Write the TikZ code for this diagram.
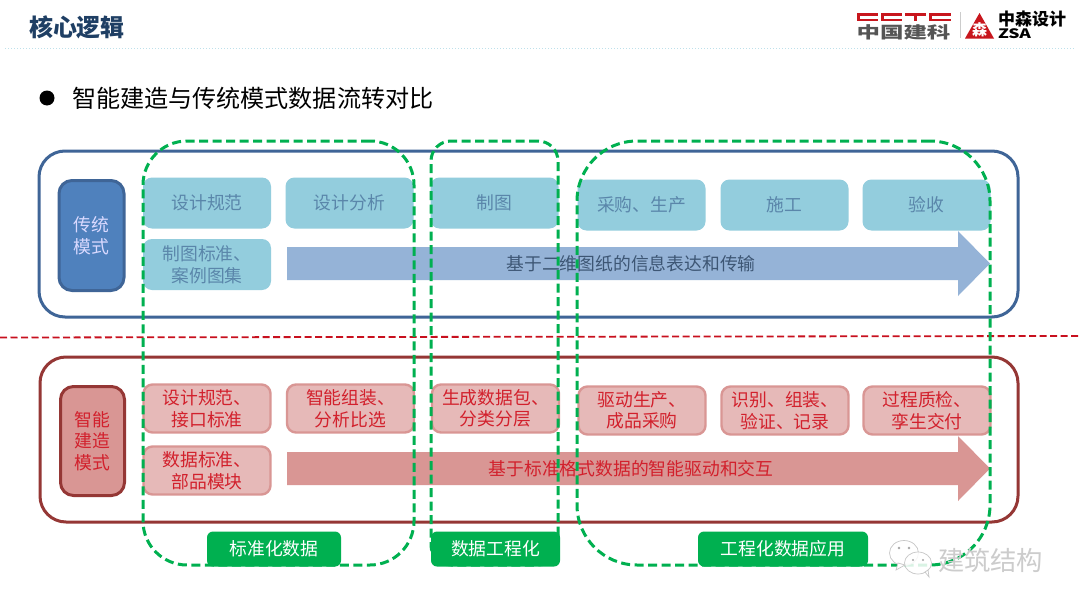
\documentclass[tikz,border=0pt]{standalone}
\usepackage{fontspec}
\usepackage{graphicx}
\setmainfont{Noto Sans CJK SC}
\definecolor{bluebox}{HTML}{93CDDD}
\definecolor{bluetext}{HTML}{5A86AA}
\definecolor{bluearrow}{HTML}{95B3D7}
\definecolor{bluepill}{HTML}{4F81BD}
\definecolor{blueline}{HTML}{3F6597}
\definecolor{redbox}{HTML}{E6B9B8}
\definecolor{redborder}{HTML}{D99694}
\definecolor{redline}{HTML}{953735}
\definecolor{redtext}{HTML}{D2202C}
\definecolor{grn}{HTML}{00B050}
\definecolor{titleblue}{HTML}{1F3F64}
\definecolor{logored}{HTML}{C8161D}
\definecolor{logogray}{HTML}{555555}
\definecolor{dividerred}{HTML}{C8101E}
\definecolor{arrowtext}{HTML}{3D5674}
\tikzset{
  x=1pt,y=-1pt,
  every node/.style={inner sep=0pt,outer sep=0pt,align=center},
  bodytext/.style={font=\fontsize{17.8}{21.5}\selectfont},
  outer/.style={draw,line width=3pt,rounded corners=26pt,fill=none},
  bbox/.style={bodytext,fill=bluebox,text=bluetext,rounded corners=9pt,minimum width=128pt,minimum height=51pt},
  rbox/.style={bodytext,fill=redbox,draw=redborder,line width=2.4pt,text=redtext,rounded corners=9pt,minimum width=127pt,minimum height=48pt},
  bpill/.style={bodytext,fill=bluepill,draw=blueline,line width=3pt,text=blue!15!white,rounded corners=13pt,minimum width=65pt,minimum height=110pt},
  rpill/.style={bodytext,fill=redborder,draw=redline,line width=3pt,text=redtext,rounded corners=13pt,minimum width=64pt,minimum height=109pt},
  gframe/.style={draw=grn,line width=3pt,dash pattern=on 9pt off 4.5pt,fill=none},
  glabel/.style={bodytext,fill=grn,text=white,rounded corners=6pt,minimum height=35pt},
  ctext/.style={bodytext},
}
\begin{document}
\begin{tikzpicture}
\useasboundingbox (0,0) rectangle (1080,608);
\fill[white] (0,0) rectangle (1080,608);
% header
\node[anchor=west,font=\fontsize{24}{28}\selectfont\bfseries,text=titleblue] (title) at (29,27) {核心逻辑};
\draw[bluebox!60,line width=1pt,dotted] (5,48.5) -- (1075,48.5);
\fill[black] (47,98) circle (7.5);
\node[anchor=west,font=\fontsize{24.1}{28}\selectfont,text=black] (subtitle) at (72,98) {智能建造与传统模式数据流转对比};
% logo
\foreach \a/\b in {857/878,881/902,929/951}{
  \fill[logored] (\a,13) rectangle (\b,15.5);
  \fill[logored] (\a,18.5) rectangle (\b,21);
  \fill[logored] (\a,13) rectangle (\a+3,21);
}
\fill[logored] (905,13) rectangle (926,15.5);
\fill[logored] (914,13) rectangle (917,21);
\node[text=logogray] (lg1) at (903.5,32.5) {\scalebox{1.45}[1]{\fontsize{16.2}{17}\selectfont\bfseries 中国建科}};
\draw[gray!40,line width=0.8pt] (960,12) -- (960,38);
\fill[logored] (979.5,13) -- (994,38.5) -- (965,38.5) -- cycle;
\node[font=\fontsize{15}{15}\selectfont\bfseries,text=white] (lg2) at (979.5,30) {森};
\node[font=\fontsize{17}{17}\selectfont\bfseries,text=black] (lg3) at (1032,19) {中森设计};
\node[anchor=west,text=black] (lg4) at (998,33.5) {\scalebox{1.35}[1]{\fontsize{13}{13}\selectfont\bfseries ZSA}};
% outer panels
\node[outer,draw=blueline,minimum width=979pt,minimum height=166pt] (topframe) at (528.5,234) {};
\node[outer,draw=redline,minimum width=978pt,minimum height=165pt] (botframe) at (529,439.5) {};
% red dashed divider
\coordinate (da) at (0,337.5); \coordinate (db) at (1080,336);
\draw[dividerred,line width=1.8pt,dash pattern=on 7pt off 3.5pt] (da) -- (db);
% top row
\node[bpill] (tradition) at (91.5,235.5) {传统\\模式};
\node[bbox] (t1) at (207,203) {设计规范};
\node[bbox] (t2) at (349.5,203) {设计分析};
\node[bbox] (t3) at (494.5,203) {制图};
\node[bbox] (t4) at (641.5,205) {采购、生产};
\node[bbox] (t5) at (784.5,205) {施工};
\node[bbox] (t6) at (926.5,205) {验收};
\node[bbox] (t7) at (207,264.5) {制图标准、\\案例图集};
\fill[bluearrow] (287,247) -- (958,247) -- (958,231) -- (990,263.5) -- (958,296) -- (958,280) -- (287,280) -- cycle;
% bottom row
\node[rpill] (smart) at (92.5,441) {智能\\建造\\模式};
\node[rbox] (r1) at (207,408.5) {设计规范、\\接口标准};
\node[rbox] (r2) at (350.5,408.5) {智能组装、\\分析比选};
\node[rbox] (r3) at (495.5,408.5) {生成数据包、\\分类分层};
\node[rbox] (r4) at (642,410.5) {驱动生产、\\成品采购};
\node[rbox] (r5) at (785,410.5) {识别、组装、\\验证、记录};
\node[rbox] (r6) at (927,410.5) {过程质检、\\孪生交付};
\node[rbox] (r7) at (207,470.5) {数据标准、\\部品模块};
\fill[redborder] (287,452) -- (958,452) -- (958,436) -- (990,468.5) -- (958,501) -- (958,485) -- (287,485) -- cycle;
% arrow labels
\node[ctext,text=arrowtext] (tlabel) at (631,263.5) {基于二维图纸的信息表达和传输};
\node[ctext,text=redtext] (rlabel) at (631,468.5) {基于标准格式数据的智能驱动和交互};
% green frames
\node[gframe,rounded corners=44pt,minimum width=271pt,minimum height=424pt] (g1) at (278.5,353) {};
\node[gframe,rounded corners=20pt,minimum width=127pt,minimum height=424pt] (g2) at (494.5,353) {};
\node[gframe,rounded corners=60pt,minimum width=413pt,minimum height=424pt] (g3) at (783.5,353) {};
\node[glabel,minimum width=134pt] (l1) at (274,549) {标准化数据};
\node[glabel,minimum width=129pt] (l2) at (495.5,549) {数据工程化};
\node[glabel,minimum width=170pt] (l3) at (783,549) {工程化数据应用};
% watermark
\draw[gray!45,line width=0.7pt,fill=white,fill opacity=0.85] (904,553) ellipse (14.5 and 12.5);
\fill[white,draw=gray!45,line width=0.7pt] (898,563) -- (896,570) -- (905,565) -- cycle;
\draw[gray!45,line width=0.7pt,fill=white,fill opacity=0.85] (918,563) ellipse (13.5 and 11);
\fill[white,draw=gray!45,line width=0.7pt] (925,572) -- (929,577) -- (928,570) -- cycle;
\fill[gray!70] (899,548) circle (1.3) (909,548) circle (1.3) (913,560) circle (1.1) (923,560) circle (1.1);
\node[anchor=west,font=\fontsize{26.3}{28}\selectfont,text=gray!40] (wm) at (938,560) {建筑结构};
\end{tikzpicture}
\end{document}
